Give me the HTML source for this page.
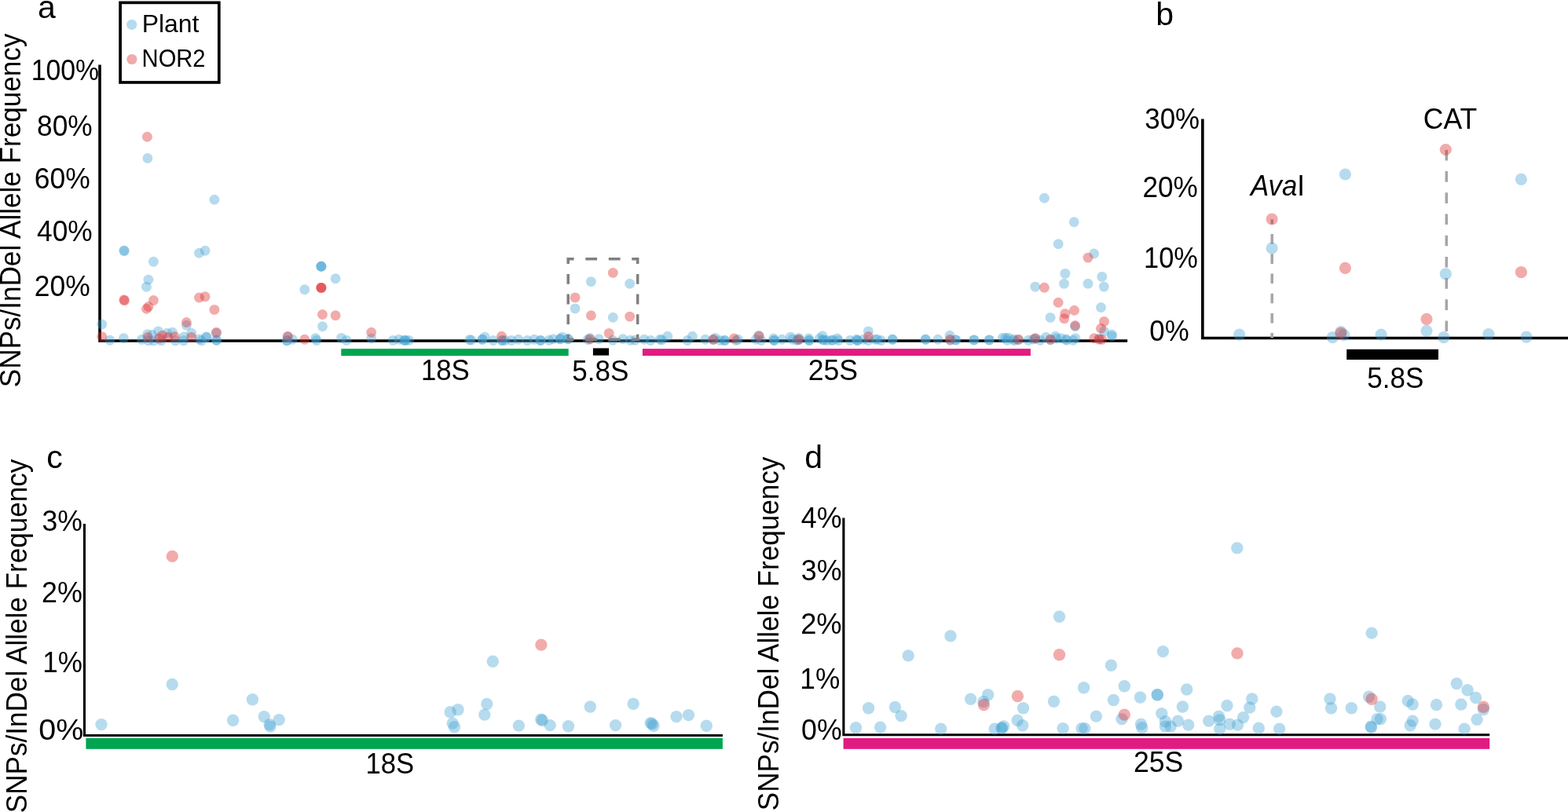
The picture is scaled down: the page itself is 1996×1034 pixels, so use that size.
<!DOCTYPE html>
<html lang="en">
<head>
<meta charset="utf-8">
<title>SNPs/InDel Allele Frequency</title>
<style>
html,body{margin:0;padding:0;background:#fff;}
body{width:1996px;height:1034px;overflow:hidden;}
svg{display:block;}
text{font-family:"Liberation Sans", Arial, Helvetica, sans-serif;fill:#000;}
.t{font-size:35px;}
.p{font-size:41px;}
.y{font-size:35px;}
.l{font-size:31.5px;}
.ax{stroke:#000;fill:none;}
.b{fill:rgb(66,163,212);fill-opacity:0.39;}
.r{fill:rgb(222,45,45);fill-opacity:0.4;}
.g{stroke:#808080;stroke-width:3.5;fill:none;}
.g2{stroke:#a6a6a6;stroke-width:3.5;fill:none;}
</style>
</head>
<body>
<svg width="1996" height="1034" viewBox="0 0 1996 1034">
<rect x="0" y="0" width="1996" height="1034" fill="#fff"/>
<g id="panel-a">
<path class="ax" stroke-width="3.6" d="M127.00 82.50V434.05H1435.20"/>
<rect x="434.3" y="444.1" width="289.4" height="9.0" fill="#00a550"/>
<rect x="754.9" y="443.4" width="20.2" height="9.2" fill="#000"/>
<rect x="817.9" y="444.1" width="494.0" height="8.9" fill="#e11b81"/>
<g>
<circle class="b" cx="129.7" cy="413.0" r="6.45"/>
<circle class="b" cx="157.8" cy="319.0" r="6.45"/>
<circle class="b" cx="158.3" cy="319.6" r="6.45"/>
<circle class="b" cx="253.5" cy="322.2" r="6.45"/>
<circle class="b" cx="261.1" cy="319.2" r="6.45"/>
<circle class="b" cx="195.4" cy="333.2" r="6.45"/>
<circle class="b" cx="188.9" cy="356.1" r="6.45"/>
<circle class="b" cx="186.4" cy="365.2" r="6.45"/>
<circle class="b" cx="187.9" cy="201.5" r="6.45"/>
<circle class="b" cx="272.9" cy="254.3" r="6.45"/>
<circle class="b" cx="139.8" cy="433.3" r="6.45"/>
<circle class="b" cx="157.4" cy="430.7" r="6.45"/>
<circle class="b" cx="180.4" cy="432.4" r="6.45"/>
<circle class="b" cx="187.6" cy="425.7" r="6.45"/>
<circle class="b" cx="193.8" cy="426.2" r="6.45"/>
<circle class="b" cx="201.4" cy="421.9" r="6.45"/>
<circle class="b" cx="212.8" cy="424.3" r="6.45"/>
<circle class="b" cx="219.5" cy="423.3" r="6.45"/>
<circle class="b" cx="189.0" cy="433.8" r="6.45"/>
<circle class="b" cx="195.7" cy="433.8" r="6.45"/>
<circle class="b" cx="205.2" cy="433.8" r="6.45"/>
<circle class="b" cx="223.3" cy="433.8" r="6.45"/>
<circle class="b" cx="234.2" cy="429.0" r="6.45"/>
<circle class="b" cx="233.7" cy="433.8" r="6.45"/>
<circle class="b" cx="237.4" cy="414.3" r="6.45"/>
<circle class="b" cx="243.7" cy="424.3" r="6.45"/>
<circle class="b" cx="253.7" cy="431.9" r="6.45"/>
<circle class="b" cx="256.6" cy="433.8" r="6.45"/>
<circle class="b" cx="262.8" cy="429.2" r="6.45"/>
<circle class="b" cx="262.8" cy="429.2" r="6.45"/>
<circle class="b" cx="275.6" cy="433.3" r="6.45"/>
<circle class="b" cx="275.6" cy="433.3" r="6.45"/>
<circle class="b" cx="408.9" cy="339.2" r="6.45"/>
<circle class="b" cx="408.9" cy="339.2" r="6.45"/>
<circle class="b" cx="408.9" cy="339.2" r="6.45"/>
<circle class="b" cx="427.1" cy="354.8" r="6.45"/>
<circle class="b" cx="387.8" cy="368.8" r="6.45"/>
<circle class="b" cx="410.5" cy="415.7" r="6.45"/>
<circle class="b" cx="365.2" cy="433.8" r="6.45"/>
<circle class="b" cx="365.2" cy="433.8" r="6.45"/>
<circle class="b" cx="372.4" cy="432.3" r="6.45"/>
<circle class="b" cx="401.6" cy="430.7" r="6.45"/>
<circle class="b" cx="402.9" cy="433.4" r="6.45"/>
<circle class="b" cx="434.6" cy="430.4" r="6.45"/>
<circle class="b" cx="441.0" cy="433.4" r="6.45"/>
<circle class="b" cx="472.7" cy="431.0" r="6.45"/>
<circle class="b" cx="500.3" cy="433.4" r="6.45"/>
<circle class="b" cx="507.9" cy="432.2" r="6.45"/>
<circle class="b" cx="514.8" cy="433.4" r="6.45"/>
<circle class="b" cx="514.8" cy="433.4" r="6.45"/>
<circle class="b" cx="516.7" cy="433.4" r="6.45"/>
<circle class="b" cx="520.5" cy="433.4" r="6.45"/>
<circle class="b" cx="597.6" cy="432.7" r="6.45"/>
<circle class="b" cx="600.0" cy="433.0" r="6.45"/>
<circle class="b" cx="614.0" cy="432.2" r="6.45"/>
<circle class="b" cx="614.0" cy="432.2" r="6.45"/>
<circle class="b" cx="617.1" cy="429.1" r="6.45"/>
<circle class="b" cx="627.8" cy="433.5" r="6.45"/>
<circle class="b" cx="639.1" cy="433.5" r="6.45"/>
<circle class="b" cx="639.1" cy="433.5" r="6.45"/>
<circle class="b" cx="642.9" cy="433.5" r="6.45"/>
<circle class="b" cx="651.1" cy="433.5" r="6.45"/>
<circle class="b" cx="659.9" cy="432.2" r="6.45"/>
<circle class="b" cx="671.2" cy="433.5" r="6.45"/>
<circle class="b" cx="680.0" cy="432.2" r="6.45"/>
<circle class="b" cx="688.1" cy="433.5" r="6.45"/>
<circle class="b" cx="688.1" cy="433.5" r="6.45"/>
<circle class="b" cx="698.8" cy="433.2" r="6.45"/>
<circle class="b" cx="704.2" cy="431.8" r="6.45"/>
<circle class="b" cx="713.0" cy="431.8" r="6.45"/>
<circle class="b" cx="713.0" cy="431.8" r="6.45"/>
<circle class="b" cx="715.7" cy="429.1" r="6.45"/>
<circle class="b" cx="723.2" cy="431.8" r="6.45"/>
<circle class="b" cx="723.2" cy="431.8" r="6.45"/>
<circle class="b" cx="748.2" cy="432.5" r="6.45"/>
<circle class="b" cx="750.9" cy="430.5" r="6.45"/>
<circle class="b" cx="762.4" cy="431.8" r="6.45"/>
<circle class="b" cx="780.0" cy="433.2" r="6.45"/>
<circle class="b" cx="792.9" cy="431.8" r="6.45"/>
<circle class="b" cx="802.4" cy="433.2" r="6.45"/>
<circle class="b" cx="808.4" cy="433.2" r="6.45"/>
<circle class="b" cx="752.4" cy="358.6" r="6.45"/>
<circle class="b" cx="801.7" cy="361.3" r="6.45"/>
<circle class="b" cx="732.1" cy="392.9" r="6.45"/>
<circle class="b" cx="780.3" cy="404.3" r="6.45"/>
<circle class="b" cx="820.0" cy="432.2" r="6.45"/>
<circle class="b" cx="828.2" cy="433.5" r="6.45"/>
<circle class="b" cx="840.1" cy="432.2" r="6.45"/>
<circle class="b" cx="842.6" cy="432.9" r="6.45"/>
<circle class="b" cx="849.8" cy="428.2" r="6.45"/>
<circle class="b" cx="875.0" cy="433.5" r="6.45"/>
<circle class="b" cx="881.4" cy="428.2" r="6.45"/>
<circle class="b" cx="897.7" cy="432.2" r="6.45"/>
<circle class="b" cx="910.5" cy="430.4" r="6.45"/>
<circle class="b" cx="916.8" cy="433.5" r="6.45"/>
<circle class="b" cx="922.5" cy="433.5" r="6.45"/>
<circle class="b" cx="922.5" cy="433.5" r="6.45"/>
<circle class="b" cx="937.0" cy="433.5" r="6.45"/>
<circle class="b" cx="939.5" cy="432.2" r="6.45"/>
<circle class="b" cx="962.1" cy="432.2" r="6.45"/>
<circle class="b" cx="965.9" cy="427.2" r="6.45"/>
<circle class="b" cx="969.0" cy="433.5" r="6.45"/>
<circle class="b" cx="984.7" cy="431.0" r="6.45"/>
<circle class="b" cx="985.4" cy="433.5" r="6.45"/>
<circle class="b" cx="985.4" cy="433.5" r="6.45"/>
<circle class="b" cx="995.4" cy="432.2" r="6.45"/>
<circle class="b" cx="1006.4" cy="429.1" r="6.45"/>
<circle class="b" cx="1008.6" cy="432.2" r="6.45"/>
<circle class="b" cx="1014.3" cy="433.5" r="6.45"/>
<circle class="b" cx="1016.8" cy="430.4" r="6.45"/>
<circle class="b" cx="1029.4" cy="431.0" r="6.45"/>
<circle class="b" cx="1030.0" cy="433.5" r="6.45"/>
<circle class="b" cx="1030.0" cy="433.5" r="6.45"/>
<circle class="b" cx="1043.2" cy="431.0" r="6.45"/>
<circle class="b" cx="1047.0" cy="427.8" r="6.45"/>
<circle class="b" cx="1048.2" cy="432.9" r="6.45"/>
<circle class="b" cx="1048.2" cy="432.9" r="6.45"/>
<circle class="b" cx="1052.6" cy="433.5" r="6.45"/>
<circle class="b" cx="1058.9" cy="433.5" r="6.45"/>
<circle class="b" cx="1060.0" cy="432.9" r="6.45"/>
<circle class="b" cx="1065.7" cy="431.0" r="6.45"/>
<circle class="b" cx="1067.5" cy="433.5" r="6.45"/>
<circle class="b" cx="1082.0" cy="433.5" r="6.45"/>
<circle class="b" cx="1090.2" cy="432.2" r="6.45"/>
<circle class="b" cx="1091.4" cy="433.5" r="6.45"/>
<circle class="b" cx="1091.4" cy="433.5" r="6.45"/>
<circle class="b" cx="1099.0" cy="432.2" r="6.45"/>
<circle class="b" cx="1105.3" cy="421.9" r="6.45"/>
<circle class="b" cx="1105.3" cy="433.5" r="6.45"/>
<circle class="b" cx="1114.1" cy="432.2" r="6.45"/>
<circle class="b" cx="1116.6" cy="432.2" r="6.45"/>
<circle class="b" cx="1121.6" cy="433.5" r="6.45"/>
<circle class="b" cx="1136.1" cy="432.2" r="6.45"/>
<circle class="b" cx="1136.1" cy="432.2" r="6.45"/>
<circle class="b" cx="1178.2" cy="432.2" r="6.45"/>
<circle class="b" cx="1178.2" cy="432.2" r="6.45"/>
<circle class="b" cx="1193.9" cy="432.2" r="6.45"/>
<circle class="b" cx="1209.0" cy="427.2" r="6.45"/>
<circle class="b" cx="1209.6" cy="433.5" r="6.45"/>
<circle class="b" cx="1216.6" cy="432.9" r="6.45"/>
<circle class="b" cx="1216.6" cy="432.9" r="6.45"/>
<circle class="b" cx="1239.8" cy="432.9" r="6.45"/>
<circle class="b" cx="1239.8" cy="432.9" r="6.45"/>
<circle class="b" cx="1259.3" cy="432.9" r="6.45"/>
<circle class="b" cx="1259.3" cy="432.9" r="6.45"/>
<circle class="b" cx="1276.3" cy="430.4" r="6.45"/>
<circle class="b" cx="1280.0" cy="430.3" r="6.45"/>
<circle class="b" cx="1282.1" cy="433.2" r="6.45"/>
<circle class="b" cx="1283.8" cy="430.3" r="6.45"/>
<circle class="b" cx="1290.2" cy="432.0" r="6.45"/>
<circle class="b" cx="1291.5" cy="433.7" r="6.45"/>
<circle class="b" cx="1309.0" cy="433.2" r="6.45"/>
<circle class="b" cx="1315.3" cy="432.0" r="6.45"/>
<circle class="b" cx="1324.3" cy="433.2" r="6.45"/>
<circle class="b" cx="1331.5" cy="429.4" r="6.45"/>
<circle class="b" cx="1343.5" cy="428.3" r="6.45"/>
<circle class="b" cx="1344.7" cy="431.1" r="6.45"/>
<circle class="b" cx="1350.7" cy="430.7" r="6.45"/>
<circle class="b" cx="1357.1" cy="432.0" r="6.45"/>
<circle class="b" cx="1357.5" cy="433.2" r="6.45"/>
<circle class="b" cx="1366.0" cy="433.2" r="6.45"/>
<circle class="b" cx="1369.0" cy="430.7" r="6.45"/>
<circle class="b" cx="1399.2" cy="431.1" r="6.45"/>
<circle class="b" cx="275.5" cy="424.3" r="6.45"/>
<circle class="b" cx="366.3" cy="428.7" r="6.45"/>
<circle class="b" cx="908.0" cy="432.6" r="6.45"/>
<circle class="b" cx="1016.8" cy="432.6" r="6.45"/>
<circle class="b" cx="1296.4" cy="432.6" r="6.45"/>
<circle class="b" cx="1317.9" cy="431.2" r="6.45"/>
<circle class="b" cx="1337.1" cy="432.6" r="6.45"/>
<circle class="b" cx="1401.5" cy="391.5" r="6.45"/>
<circle class="b" cx="1337.1" cy="404.4" r="6.45"/>
<circle class="b" cx="1368.6" cy="415.8" r="6.45"/>
<circle class="b" cx="1405.5" cy="421.7" r="6.45"/>
<circle class="b" cx="1415.4" cy="426.0" r="6.45"/>
<circle class="b" cx="1415.4" cy="428.1" r="6.45"/>
<circle class="b" cx="1329.4" cy="252.3" r="6.45"/>
<circle class="b" cx="1367.2" cy="282.7" r="6.45"/>
<circle class="b" cx="1347.2" cy="310.6" r="6.45"/>
<circle class="b" cx="1392.6" cy="323.0" r="6.45"/>
<circle class="b" cx="1355.9" cy="348.4" r="6.45"/>
<circle class="b" cx="1354.5" cy="361.3" r="6.45"/>
<circle class="b" cx="1385.0" cy="361.3" r="6.45"/>
<circle class="b" cx="1402.8" cy="352.4" r="6.45"/>
<circle class="b" cx="1405.3" cy="365.1" r="6.45"/>
<circle class="b" cx="1317.8" cy="365.1" r="6.45"/>
<circle class="r" cx="187.4" cy="174.3" r="6.45"/>
<circle class="r" cx="157.8" cy="381.8" r="6.45"/>
<circle class="r" cx="158.5" cy="382.7" r="6.45"/>
<circle class="r" cx="195.4" cy="382.5" r="6.45"/>
<circle class="r" cx="188.9" cy="390.5" r="6.45"/>
<circle class="r" cx="186.5" cy="393.2" r="6.45"/>
<circle class="r" cx="253.5" cy="379.0" r="6.45"/>
<circle class="r" cx="261.1" cy="377.8" r="6.45"/>
<circle class="r" cx="272.9" cy="394.4" r="6.45"/>
<circle class="r" cx="237.4" cy="410.5" r="6.45"/>
<circle class="r" cx="129.7" cy="428.6" r="6.45"/>
<circle class="r" cx="275.4" cy="423.3" r="6.45"/>
<circle class="r" cx="188.1" cy="429.5" r="6.45"/>
<circle class="r" cx="202.8" cy="430.9" r="6.45"/>
<circle class="r" cx="206.6" cy="427.1" r="6.45"/>
<circle class="r" cx="213.8" cy="429.5" r="6.45"/>
<circle class="r" cx="222.3" cy="428.6" r="6.45"/>
<circle class="r" cx="243.7" cy="429.5" r="6.45"/>
<circle class="r" cx="408.9" cy="366.4" r="6.45"/>
<circle class="r" cx="408.9" cy="366.4" r="6.45"/>
<circle class="r" cx="408.9" cy="366.4" r="6.45"/>
<circle class="r" cx="410.5" cy="400.5" r="6.45"/>
<circle class="r" cx="427.1" cy="401.7" r="6.45"/>
<circle class="r" cx="472.7" cy="423.2" r="6.45"/>
<circle class="r" cx="366.3" cy="428.4" r="6.45"/>
<circle class="r" cx="387.8" cy="432.3" r="6.45"/>
<circle class="r" cx="638.5" cy="428.2" r="6.45"/>
<circle class="r" cx="751.0" cy="432.0" r="6.45"/>
<circle class="r" cx="775.2" cy="424.4" r="6.45"/>
<circle class="r" cx="732.1" cy="378.9" r="6.45"/>
<circle class="r" cx="752.4" cy="401.8" r="6.45"/>
<circle class="r" cx="801.7" cy="403.1" r="6.45"/>
<circle class="r" cx="780.3" cy="347.4" r="6.45"/>
<circle class="r" cx="908.0" cy="432.2" r="6.45"/>
<circle class="r" cx="934.4" cy="431.0" r="6.45"/>
<circle class="r" cx="966.1" cy="428.1" r="6.45"/>
<circle class="r" cx="1016.8" cy="432.2" r="6.45"/>
<circle class="r" cx="1105.5" cy="428.5" r="6.45"/>
<circle class="r" cx="1209.3" cy="432.2" r="6.45"/>
<circle class="r" cx="1296.4" cy="432.2" r="6.45"/>
<circle class="r" cx="1347.1" cy="385.3" r="6.45"/>
<circle class="r" cx="1367.5" cy="395.3" r="6.45"/>
<circle class="r" cx="1355.8" cy="399.4" r="6.45"/>
<circle class="r" cx="1354.7" cy="405.6" r="6.45"/>
<circle class="r" cx="1368.6" cy="414.5" r="6.45"/>
<circle class="r" cx="1405.5" cy="409.4" r="6.45"/>
<circle class="r" cx="1401.5" cy="418.3" r="6.45"/>
<circle class="r" cx="1392.7" cy="430.8" r="6.45"/>
<circle class="r" cx="1399.0" cy="432.1" r="6.45"/>
<circle class="r" cx="1402.6" cy="432.4" r="6.45"/>
<circle class="r" cx="1317.9" cy="430.8" r="6.45"/>
<circle class="r" cx="1337.1" cy="432.4" r="6.45"/>
<circle class="r" cx="1385.0" cy="328.1" r="6.45"/>
<circle class="r" cx="1329.4" cy="366.2" r="6.45"/>
</g>
<path class="g" d="M721.5 329.7H730.6M745.3 329.7H760.1M774.8 329.7H789.6M804.3 329.7H813.4M721.5 432.2H730.6M745.3 432.2H760.1M774.8 432.2H789.6M804.3 432.2H813.4M723.2 328.0V336.1M723.2 348.9V361.7M723.2 374.5V387.4M723.2 400.2V413.0M723.2 425.8V433.9M811.7 328.0V336.1M811.7 348.9V361.7M811.7 374.5V387.4M811.7 400.2V413.0M811.7 425.8V433.9"/>
<rect x="153.1" y="3.35" width="125.7" height="101.6" fill="#fff" stroke="#000" stroke-width="3.7"/>
<circle cx="167.7" cy="31.4" r="6.6" fill="rgb(181,219,238)"/>
<circle cx="167.9" cy="75.5" r="6.6" fill="rgb(241,170,171)"/>
<text class="l" transform="translate(180.67 41.30) scale(1.0133 1.0000)">Plant</text>
<text class="l" transform="translate(180.60 85.40) scale(0.9254 1.0000)">NOR2</text>
<text class="p" transform="translate(48.06 22.60) scale(1.0000 1.0000)">a</text>
<text class="t" transform="translate(39.67 102.40) scale(0.9652 1.0400)">100%</text>
<text class="t" transform="translate(47.10 172.90) scale(1.0076 1.0400)">80%</text>
<text class="t" transform="translate(43.83 240.20) scale(1.0131 1.0400)">60%</text>
<text class="t" transform="translate(47.01 306.70) scale(1.0090 1.0400)">40%</text>
<text class="t" transform="translate(43.83 376.60) scale(1.0131 1.0400)">20%</text>
<text class="t" transform="translate(535.89 483.60) scale(0.9946 1.0400)">18S</text>
<text class="t" transform="translate(728.30 484.80) scale(1.0022 1.0400)">5.8S</text>
<text class="t" transform="translate(1028.72 484.10) scale(1.0172 1.0400)">25S</text>
<text class="y" transform="translate(26.30 493.18) rotate(-90) scale(1.0026 1.0400)">SNPs/InDel Allele Frequency</text>
</g>
<g id="panel-b">
<path class="ax" stroke-width="3.6" d="M1530.85 151.60V430.45H1996.00"/>
<rect x="1714.2" y="444.8" width="116.8" height="13.2" fill="#000"/>
<path class="g2" d="M1619.2 279.2V285.5M1619.2 298.1V310.7M1619.2 323.3V335.9M1619.2 348.5V361.1M1619.2 373.7V386.3M1619.2 398.9V411.5M1619.2 424.1V430.4"/>
<path class="g2" d="M1841.3 190.9V204.5M1841.3 218.1V231.7M1841.3 245.3V258.9M1841.3 272.5V286.1M1841.3 299.7V313.3M1841.3 326.9V340.5M1841.3 354.1V367.7M1841.3 381.3V394.9M1841.3 408.5V422.1"/>
<g>
<circle class="b" cx="1712.4" cy="222.0" r="7.6"/>
<circle class="b" cx="1936.4" cy="228.4" r="7.6"/>
<circle class="b" cx="1619.1" cy="316.0" r="7.6"/>
<circle class="b" cx="1840.3" cy="348.9" r="7.6"/>
<circle class="b" cx="1577.6" cy="426.1" r="7.6"/>
<circle class="b" cx="1696.3" cy="429.7" r="7.6"/>
<circle class="b" cx="1706.9" cy="422.5" r="7.6"/>
<circle class="b" cx="1710.8" cy="426.6" r="7.6"/>
<circle class="b" cx="1758.1" cy="426.1" r="7.6"/>
<circle class="b" cx="1816.0" cy="421.3" r="7.6"/>
<circle class="b" cx="1837.8" cy="429.7" r="7.6"/>
<circle class="b" cx="1894.9" cy="425.5" r="7.6"/>
<circle class="b" cx="1943.1" cy="429.1" r="7.6"/>
<circle class="r" cx="1840.3" cy="190.5" r="7.6"/>
<circle class="r" cx="1619.1" cy="279.0" r="7.6"/>
<circle class="r" cx="1712.4" cy="341.4" r="7.6"/>
<circle class="r" cx="1936.4" cy="346.7" r="7.6"/>
<circle class="r" cx="1816.0" cy="406.3" r="7.6"/>
<circle class="r" cx="1706.9" cy="424.4" r="7.6"/>
</g>
<text class="p" transform="translate(1471.24 31.70) scale(1.0000 1.0000)">b</text>
<text class="t" transform="translate(1457.29 163.85) scale(0.9961 1.0400)">30%</text>
<text class="t" transform="translate(1454.54 251.40) scale(1.0041 1.0400)">20%</text>
<text class="t" transform="translate(1456.02 340.60) scale(0.9826 1.0400)">10%</text>
<text class="t" transform="translate(1463.31 434.40) scale(0.9945 1.0400)">0%</text>
<text class="t" transform="translate(1811.82 163.70) scale(1.0164 1.0400)">CAT</text>
<text class="t" transform="translate(1592.05 248.6) scale(0.9939 1.0400)"><tspan font-style="italic">Ava</tspan>I</text>
<text class="t" transform="translate(1740.30 493.95) scale(1.0007 1.0400)">5.8S</text>
</g>
<g id="panel-c">
<path class="ax" stroke-width="3.1" d="M107.45 667.10V936.45H919.90"/>
<rect x="109.4" y="940.0" width="810.5" height="13.8" fill="#00a550"/>
<g>
<circle class="b" cx="129.0" cy="922.6" r="7.7"/>
<circle class="b" cx="219.2" cy="871.5" r="7.7"/>
<circle class="b" cx="321.4" cy="890.8" r="7.7"/>
<circle class="b" cx="296.6" cy="917.3" r="7.7"/>
<circle class="b" cx="336.2" cy="912.6" r="7.7"/>
<circle class="b" cx="355.2" cy="916.6" r="7.7"/>
<circle class="b" cx="343.2" cy="922.6" r="7.7"/>
<circle class="b" cx="344.0" cy="925.1" r="7.7"/>
<circle class="b" cx="627.3" cy="842.2" r="7.7"/>
<circle class="b" cx="619.8" cy="896.5" r="7.7"/>
<circle class="b" cx="616.8" cy="910.1" r="7.7"/>
<circle class="b" cx="573.2" cy="906.8" r="7.7"/>
<circle class="b" cx="583.0" cy="903.8" r="7.7"/>
<circle class="b" cx="576.2" cy="921.1" r="7.7"/>
<circle class="b" cx="578.4" cy="925.8" r="7.7"/>
<circle class="b" cx="660.4" cy="924.1" r="7.7"/>
<circle class="b" cx="688.7" cy="916.3" r="7.7"/>
<circle class="b" cx="690.4" cy="917.3" r="7.7"/>
<circle class="b" cx="700.2" cy="923.6" r="7.7"/>
<circle class="b" cx="723.5" cy="924.8" r="7.7"/>
<circle class="b" cx="751.3" cy="900.0" r="7.7"/>
<circle class="b" cx="783.6" cy="923.6" r="7.7"/>
<circle class="b" cx="806.2" cy="896.3" r="7.7"/>
<circle class="b" cx="828.2" cy="920.6" r="7.7"/>
<circle class="b" cx="830.0" cy="921.8" r="7.7"/>
<circle class="b" cx="832.0" cy="924.3" r="7.7"/>
<circle class="b" cx="861.0" cy="912.6" r="7.7"/>
<circle class="b" cx="876.5" cy="910.6" r="7.7"/>
<circle class="b" cx="899.3" cy="924.3" r="7.7"/>
<circle class="r" cx="219.3" cy="708.4" r="7.7"/>
<circle class="r" cx="688.9" cy="821.1" r="7.7"/>
</g>
<text class="p" transform="translate(59.36 596.30) scale(1.0000 1.0000)">c</text>
<text class="t" transform="translate(53.57 675.90) scale(1.0156 1.0400)">3%</text>
<text class="t" transform="translate(53.11 766.90) scale(1.0250 1.0400)">2%</text>
<text class="t" transform="translate(54.27 855.90) scale(1.0013 1.0400)">1%</text>
<text class="t" transform="translate(49.22 941.80) scale(1.1261 1.0400)">0%</text>
<text class="t" transform="translate(465.50 984.80) scale(0.9912 1.0400)">18S</text>
<text class="y" transform="translate(34.00 1035.18) rotate(-90) scale(1.0026 1.0400)">SNPs/InDel Allele Frequency</text>
</g>
<g id="panel-d">
<path class="ax" stroke-width="3.1" d="M1073.85 659.60V935.80H1896.20"/>
<rect x="1073.6" y="940.0" width="822.6" height="13.8" fill="#e11b81"/>
<g>
<circle class="b" cx="1089.5" cy="926.8" r="7.7"/>
<circle class="b" cx="1105.6" cy="901.8" r="7.7"/>
<circle class="b" cx="1120.6" cy="926.1" r="7.7"/>
<circle class="b" cx="1139.4" cy="900.5" r="7.7"/>
<circle class="b" cx="1147.1" cy="911.6" r="7.7"/>
<circle class="b" cx="1156.2" cy="834.9" r="7.7"/>
<circle class="b" cx="1197.7" cy="928.1" r="7.7"/>
<circle class="b" cx="1210.0" cy="809.9" r="7.7"/>
<circle class="b" cx="1235.6" cy="890.3" r="7.7"/>
<circle class="b" cx="1257.6" cy="884.8" r="7.7"/>
<circle class="b" cx="1251.9" cy="893.5" r="7.7"/>
<circle class="b" cx="1266.1" cy="928.1" r="7.7"/>
<circle class="b" cx="1275.2" cy="927.1" r="7.7"/>
<circle class="b" cx="1275.2" cy="927.1" r="7.7"/>
<circle class="b" cx="1277.6" cy="924.9" r="7.7"/>
<circle class="b" cx="1295.2" cy="917.3" r="7.7"/>
<circle class="b" cx="1301.7" cy="923.8" r="7.7"/>
<circle class="b" cx="1302.5" cy="901.8" r="7.7"/>
<circle class="b" cx="1341.5" cy="893.3" r="7.7"/>
<circle class="b" cx="1348.5" cy="785.3" r="7.7"/>
<circle class="b" cx="1353.1" cy="927.6" r="7.7"/>
<circle class="b" cx="1377.1" cy="927.6" r="7.7"/>
<circle class="b" cx="1380.9" cy="927.6" r="7.7"/>
<circle class="b" cx="1379.6" cy="875.7" r="7.7"/>
<circle class="b" cx="1395.4" cy="912.1" r="7.7"/>
<circle class="b" cx="1414.4" cy="847.2" r="7.7"/>
<circle class="b" cx="1417.4" cy="891.5" r="7.7"/>
<circle class="b" cx="1431.3" cy="873.7" r="7.7"/>
<circle class="b" cx="1428.0" cy="915.6" r="7.7"/>
<circle class="b" cx="1451.5" cy="888.0" r="7.7"/>
<circle class="b" cx="1452.5" cy="922.3" r="7.7"/>
<circle class="b" cx="1453.8" cy="926.8" r="7.7"/>
<circle class="b" cx="1473.3" cy="884.8" r="7.7"/>
<circle class="b" cx="1473.3" cy="884.8" r="7.7"/>
<circle class="b" cx="1480.4" cy="829.6" r="7.7"/>
<circle class="b" cx="1478.8" cy="908.6" r="7.7"/>
<circle class="b" cx="1483.4" cy="918.8" r="7.7"/>
<circle class="b" cx="1483.4" cy="925.1" r="7.7"/>
<circle class="b" cx="1490.1" cy="925.1" r="7.7"/>
<circle class="b" cx="1499.4" cy="918.1" r="7.7"/>
<circle class="b" cx="1505.4" cy="900.0" r="7.7"/>
<circle class="b" cx="1510.7" cy="878.0" r="7.7"/>
<circle class="b" cx="1512.7" cy="923.1" r="7.7"/>
<circle class="b" cx="1538.7" cy="918.1" r="7.7"/>
<circle class="b" cx="1551.5" cy="912.3" r="7.7"/>
<circle class="b" cx="1552.7" cy="916.8" r="7.7"/>
<circle class="b" cx="1552.7" cy="928.1" r="7.7"/>
<circle class="b" cx="1562.0" cy="898.5" r="7.7"/>
<circle class="b" cx="1565.3" cy="922.3" r="7.7"/>
<circle class="b" cx="1575.5" cy="923.1" r="7.7"/>
<circle class="b" cx="1582.6" cy="913.6" r="7.7"/>
<circle class="b" cx="1590.8" cy="901.0" r="7.7"/>
<circle class="b" cx="1593.8" cy="890.0" r="7.7"/>
<circle class="b" cx="1602.3" cy="927.3" r="7.7"/>
<circle class="b" cx="1624.9" cy="906.1" r="7.7"/>
<circle class="b" cx="1628.6" cy="928.1" r="7.7"/>
<circle class="b" cx="1693.0" cy="890.0" r="7.7"/>
<circle class="b" cx="1694.5" cy="901.8" r="7.7"/>
<circle class="b" cx="1720.3" cy="901.8" r="7.7"/>
<circle class="b" cx="1746.1" cy="806.1" r="7.7"/>
<circle class="b" cx="1742.6" cy="887.3" r="7.7"/>
<circle class="b" cx="1756.7" cy="900.0" r="7.7"/>
<circle class="b" cx="1753.1" cy="915.6" r="7.7"/>
<circle class="b" cx="1757.4" cy="915.6" r="7.7"/>
<circle class="b" cx="1745.1" cy="925.1" r="7.7"/>
<circle class="b" cx="1745.6" cy="926.3" r="7.7"/>
<circle class="b" cx="1792.2" cy="892.5" r="7.7"/>
<circle class="b" cx="1798.2" cy="897.0" r="7.7"/>
<circle class="b" cx="1798.2" cy="918.1" r="7.7"/>
<circle class="b" cx="1795.2" cy="923.8" r="7.7"/>
<circle class="b" cx="1828.5" cy="897.5" r="7.7"/>
<circle class="b" cx="1827.0" cy="922.1" r="7.7"/>
<circle class="b" cx="1854.3" cy="870.5" r="7.7"/>
<circle class="b" cx="1868.1" cy="878.7" r="7.7"/>
<circle class="b" cx="1878.6" cy="888.5" r="7.7"/>
<circle class="b" cx="1859.9" cy="897.0" r="7.7"/>
<circle class="b" cx="1888.4" cy="903.5" r="7.7"/>
<circle class="b" cx="1880.1" cy="916.3" r="7.7"/>
<circle class="b" cx="1864.1" cy="928.1" r="7.7"/>
<circle class="b" cx="1574.8" cy="697.9" r="7.7"/>
<circle class="r" cx="1252.4" cy="897.5" r="7.7"/>
<circle class="r" cx="1295.4" cy="886.5" r="7.7"/>
<circle class="r" cx="1348.5" cy="833.7" r="7.7"/>
<circle class="r" cx="1431.3" cy="910.1" r="7.7"/>
<circle class="r" cx="1575.0" cy="831.9" r="7.7"/>
<circle class="r" cx="1746.1" cy="890.3" r="7.7"/>
<circle class="r" cx="1888.4" cy="900.3" r="7.7"/>
</g>
<text class="p" transform="translate(1024.16 595.80) scale(1.0000 1.0000)">d</text>
<text class="t" transform="translate(1019.79 671.50) scale(1.0232 1.0400)">4%</text>
<text class="t" transform="translate(1019.86 739.35) scale(1.0219 1.0400)">3%</text>
<text class="t" transform="translate(1019.18 806.80) scale(1.0376 1.0400)">2%</text>
<text class="t" transform="translate(1018.36 876.60) scale(1.0056 1.0400)">1%</text>
<text class="t" transform="translate(1020.07 941.50) scale(1.0196 1.0400)">0%</text>
<text class="t" transform="translate(1442.92 982.80) scale(1.0172 1.0400)">25S</text>
<text class="y" transform="translate(991.40 1032.18) rotate(-90) scale(1.0026 1.0400)">SNPs/InDel Allele Frequency</text>
</g>
</svg>
</body>
</html>
